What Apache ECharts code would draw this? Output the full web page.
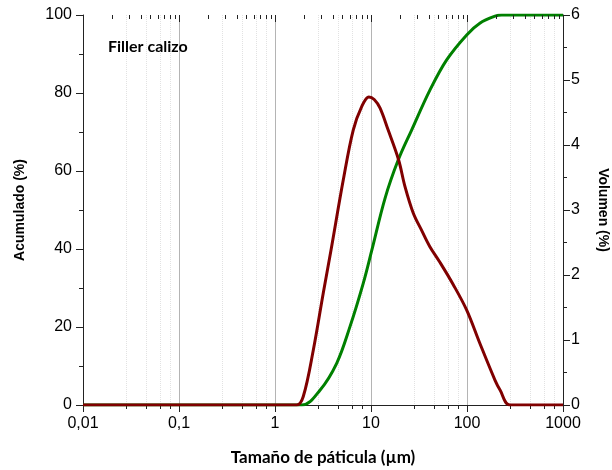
<!DOCTYPE html>
<html><head><meta charset="utf-8">
<script src="https://cdn.jsdelivr.net/npm/echarts@6/dist/echarts.min.js"></script>
<style>html,body{margin:0;padding:0;background:#fff}#c{width:612px;height:470px}</style>
</head><body><div id="c"></div>
<script>
var xTicks = [0.01, 0.1, 1, 10, 100, 1000];
var leftTicks = [0, 20, 40, 60, 80, 100];
var rightTicks = [0, 1, 2, 3, 4, 5, 6];
var minorMultipliers = [2, 3, 4, 5, 6, 7, 8, 9];
var volumeSeries = [[0.01,0],[1.68,0],[1.97,0.13],[2.51,0.85],[3.18,1.72],[3.83,2.38],[5.14,3.46],[6.53,4.23],[8.0,4.59],[9.5,4.74],[10.8,4.70],[12.4,4.57],[15.1,4.23],[19.4,3.77],[22.6,3.36],[27.6,2.95],[33.6,2.69],[40.9,2.44],[52,2.2],[72,1.85],[99.3,1.46],[136,0.95],[196,0.38],[221,0.23],[280,0],[1000,0]];
var cumulSeries = [[0.01,0],[1.9,0],[2.94,3.8],[4.39,10.7],[6.04,20.1],[8.3,31.2],[10.2,39.7],[14,53],[19.2,62.8],[26.5,70.5],[41.2,80.8],[61.4,88.5],[99.3,94.9],[136,97.9],[196,99.7],[230,100],[1000,100]];
var labelFont = 'Liberation Sans';
var titleFont = 'Lato';
function fmtX(v){ return String(v).replace('.', ','); }

var tickData = [];
xTicks.forEach(function (d, i) {
  tickData.push([d, 1]);
  if (i < xTicks.length - 1) minorMultipliers.forEach(function (m) { tickData.push([+(d * m).toPrecision(3), 0]); });
});

var tickStripAxis = {
  type: 'log', min: xTicks[0], max: xTicks[xTicks.length-1], logBase: 10,
  axisLine: {show: false}, axisTick: {show: false}, minorTick: {show: false}, axisLabel: {show: false}
};
var hiddenY = {type: 'value', min: 0, max: 1, show: false, splitLine: {show: false}};

var chart = echarts.init(document.getElementById('c'));
chart.setOption({
  animation: false,
  grid: [
    {left: 83, right: 49, top: 15, bottom: 65, containLabel: false, outerBoundsMode: 'none'},
    {left: 83, right: 49, top: 405, bottom: 58, containLabel: false, outerBoundsMode: 'none'},
    {left: 83, right: 49, top: 405, bottom: 61, containLabel: false, outerBoundsMode: 'none'}
  ],
  title: {text: 'Filler calizo', left: 103, top: 34, textStyle: {fontFamily: titleFont, fontWeight: 'bold', fontSize: 16, color: '#000'}},
  xAxis: [{
    type: 'log', min: xTicks[0], max: xTicks[xTicks.length-1], logBase: 10,
    name: 'Tamaño de páticula (µm)', nameLocation: 'middle', nameGap: 44,
    nameTextStyle: {fontFamily: titleFont, fontWeight: 'bold', fontSize: 17, color: '#000'},
    axisLine: {show: true, lineStyle: {color: '#222', width: 1}},
    axisTick: {show: false},
    minorTick: {show: false},
    axisLabel: {fontFamily: labelFont, fontSize: 16, color: '#000', margin: 11, formatter: fmtX},
    splitLine: {show: true, lineStyle: {color: '#b4b4b4', width: 1}},
    minorSplitLine: {show: true, lineStyle: {color: '#e2e2e2', type: 'dotted', width: 1}}
  }, {
    type: 'log', min: xTicks[0], max: xTicks[xTicks.length-1], logBase: 10, position: 'top',
    axisLine: {show: true, lineStyle: {color: '#222', width: 1}},
    axisTick: {show: false}, minorTick: {show: false},
    axisLabel: {show: false}, splitLine: {show: false}
  },
  Object.assign({gridIndex: 1, splitLine: {show: true, lineStyle: {color: '#222', width: 1}}, minorSplitLine: {show: false}}, tickStripAxis),
  Object.assign({gridIndex: 2, splitLine: {show: false}, minorSplitLine: {show: true, lineStyle: {color: '#222', width: 1, type: 'solid'}}}, tickStripAxis)
  ],
  yAxis: [{
    type: 'value', min: leftTicks[0], max: leftTicks[leftTicks.length-1], interval: 20,
    name: 'Acumulado (%)', nameLocation: 'middle', nameGap: 56,
    nameTextStyle: {fontFamily: labelFont, fontWeight: 'bold', fontSize: 14, color: '#000'},
    axisLine: {show: true, lineStyle: {color: '#222'}},
    axisTick: {show: true, length: 7, lineStyle: {color: '#222'}},
    minorTick: {show: true, splitNumber: 2, length: 4, lineStyle: {color: '#222'}},
    axisLabel: {fontFamily: labelFont, fontSize: 16, color: '#000', margin: 11},
    splitLine: {show: false}
  }, {
    type: 'value', min: rightTicks[0], max: rightTicks[rightTicks.length-1], interval: 1, position: 'right',
    name: 'Volumen (%)', nameLocation: 'middle', nameGap: 33, nameRotate: -90,
    nameTextStyle: {fontFamily: labelFont, fontWeight: 'bold', fontSize: 14, color: '#000'},
    axisLine: {show: true, lineStyle: {color: '#222'}},
    axisTick: {show: true, length: 7, lineStyle: {color: '#222'}},
    minorTick: {show: true, splitNumber: 2, length: 4, lineStyle: {color: '#222'}},
    axisLabel: {fontFamily: labelFont, fontSize: 16, color: '#000', margin: 8},
    splitLine: {show: false}
  },
  Object.assign({gridIndex: 1}, hiddenY),
  Object.assign({gridIndex: 2}, hiddenY)
  ],
  series: [{
    type: 'line', name: 'Acumulado', xAxisIndex: 0, yAxisIndex: 0, data: cumulSeries,
    smooth: 0.35, showSymbol: false, lineStyle: {color: '#008000', width: 3}, z: 3
  }, {
    type: 'line', name: 'Volumen', xAxisIndex: 0, yAxisIndex: 1, data: volumeSeries,
    smooth: 0.35, showSymbol: false, lineStyle: {color: '#800000', width: 3}, z: 4
  }]
});

// top-edge (inward) tick marks placed through the chart's own scales
var yTop = chart.convertToPixel({yAxisIndex: 0}, leftTicks[leftTicks.length - 1]);
var tickGraphics = [];
tickData.forEach(function (t) {
  var px = chart.convertToPixel({xAxisIndex: 0}, t[0]);
  var len = t[1] ? 7 : 4;
  var x = Math.round(px) + 0.5;
  tickGraphics.push({type: 'line', shape: {x1: x, y1: yTop, x2: x, y2: yTop + len}, style: {stroke: '#222', lineWidth: 1}, z: 100, silent: true});
});
chart.setOption({graphic: {elements: tickGraphics}});
</script></body></html>
